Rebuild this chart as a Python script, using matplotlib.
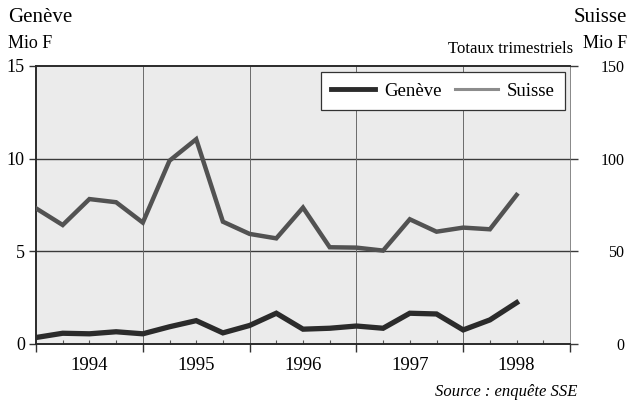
import numpy as np
import matplotlib
matplotlib.use("Agg")
import matplotlib.pyplot as plt
from matplotlib.lines import Line2D

plt.rcParams['font.family'] = ['Liberation Serif', 'DejaVu Serif']

# donnees trimestrielles, 1994 T1 -> 1998 T3
annees = ['1994', '1995', '1996', '1997', '1998']
geneve = [0.35, 0.58, 0.55, 0.66, 0.55, 0.93, 1.26, 0.60, 1.00, 1.66,
          0.80, 0.85, 0.97, 0.85, 1.66, 1.62, 0.76, 1.30, 2.23]
suisse = [73.2, 64.2, 78.2, 76.5, 65.5, 98.9, 110.5, 66.0, 59.4, 57.0,
          73.6, 52.2, 52.0, 50.4, 67.3, 60.6, 62.8, 61.9, 80.4]
gauche_ticks = [0, 5, 10, 15]
droite_ticks = [0, 50, 100, 150]

x = np.arange(len(geneve))
nq = 4 * len(annees)

fig = plt.figure(figsize=(6.3, 4.01), dpi=100)
ax = fig.add_axes([36 / 630, 57 / 401, 534 / 630, 278 / 401])
ax.set_facecolor('#ebebeb')

ax.set_xlim(0, nq)
ax.set_ylim(0, 15)

# grille
for v in gauche_ticks[1:-1]:
    ax.axhline(v, color='#3a3a3a', lw=1.0, zorder=1)
for q in range(4, nq, 4):
    ax.axvline(q, color='#6a6a6a', lw=0.7, zorder=1)

ax.plot(x, geneve, color='#2b2b2b', lw=3.8, zorder=5, solid_joinstyle='miter')

# axe x : traits d'annee vers le bas, trimestres vers le haut
ax.set_xticks(range(0, nq + 1, 4))
ax.set_xticklabels([])
ax.tick_params(axis='x', which='major', direction='out', length=6, width=1.0, color='#333333')
minor = [q for q in range(nq) if q % 4 != 0]
ax.set_xticks(minor, minor=True)
ax.set_xticklabels([annees[q // 4] if q % 4 == 2 else '' for q in minor], minor=True, fontsize=13.5)
ax.tick_params(axis='x', which='minor', direction='in', length=3, width=0.8, color='#555555', pad=9)

ax.set_yticks(gauche_ticks)
ax.set_yticklabels([str(v) for v in gauche_ticks], fontsize=13)
ax.tick_params(axis='y', direction='out', length=5, width=1.0, color='#333333', pad=3)

for s in ['left', 'bottom', 'top']:
    ax.spines[s].set_color('#2a2a2a')
    ax.spines[s].set_linewidth(1.4)
ax.spines['right'].set_color('#888888')
ax.spines['right'].set_linewidth(0.7)

# axe de droite (Suisse)
ax2 = ax.twinx()
ax2.set_ylim(0, 150)
ax2.plot(x, suisse, color='#525252', lw=3.2, zorder=4, solid_joinstyle='miter')
ax2.set_yticks(droite_ticks)
ax2.set_yticklabels([str(v) for v in droite_ticks], fontsize=11.5)
for t in ax2.get_yticklabels():
    t.set_horizontalalignment('right')
ax2.tick_params(axis='y', direction='out', length=6, width=1.0, color='#3a3a3a', pad=33)
for s in ax2.spines.values():
    s.set_visible(False)

handles = [Line2D([], [], color='#2b2b2b', lw=3.5),
           Line2D([], [], color='#8c8c8c', lw=2.2)]
leg = ax2.legend(handles, ['Genève', 'Suisse'], ncol=2, loc='upper right',
                 bbox_to_anchor=(0.991, 0.978), borderaxespad=0, fontsize=13.5,
                 handlelength=2.3, handletextpad=0.5, columnspacing=0.7, fancybox=False,
                 framealpha=1, edgecolor='#333333', borderpad=0.55)
leg.get_frame().set_linewidth(0.9)

# textes
fig.text(8 / 630, 1 - 18 / 401, 'Genève', fontsize=15, va='center', ha='left')
fig.text(8 / 630, 1 - 44 / 401, 'Mio F', fontsize=13, va='center', ha='left')
fig.text(627 / 630, 1 - 18 / 401, 'Suisse', fontsize=15, va='center', ha='right')
fig.text(627 / 630, 1 - 44 / 401, 'Mio F', fontsize=13, va='center', ha='right')
fig.text(573 / 630, 1 - 49 / 401, 'Totaux trimestriels', fontsize=12, va='center', ha='right')
fig.text(577 / 630, 1 - 392 / 401, 'Source : enquête SSE', fontsize=12, style='italic',
         va='center', ha='right')

fig.savefig('out.png', dpi=100)
